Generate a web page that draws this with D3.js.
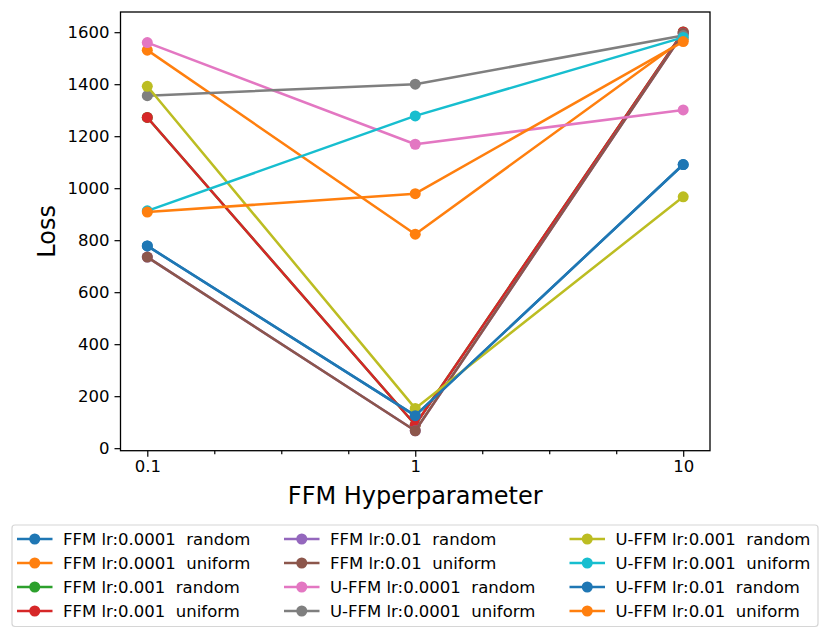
<!DOCTYPE html>
<html>
<head>
<meta charset="utf-8">
<script src="https://cdn.jsdelivr.net/npm/d3@7"></script>
<style>
  body { margin: 0; background: #fff; }
  svg text { font-family: "DejaVu Sans", sans-serif; fill: #000; }
</style>
</head>
<body>
<div id="chart"></div>
<script>
// hyperparameter values on the x axis
var hyperParams = [0.1, 1, 10];
var minorTicks = [0.25, 0.5, 0.75, 1.25, 1.5, 1.75]; // in decades above 0.1

// series labels, in plotting order
var seriesNames = [
    "FFM lr:0.0001  random",
    "FFM lr:0.0001  uniform",
    "FFM lr:0.001  random",
    "FFM lr:0.001  uniform",
    "FFM lr:0.01  random",
    "FFM lr:0.01  uniform",
    "U-FFM lr:0.0001  random",
    "U-FFM lr:0.0001  uniform",
    "U-FFM lr:0.001  random",
    "U-FFM lr:0.001  uniform",
    "U-FFM lr:0.01  random",
    "U-FFM lr:0.01  uniform"
];

// loss values at 0.1, 1, 10
var ffm0001Random = [778, 125, 1091];
var ffm0001Uniform = [1531, 823, 1572];
var ffm001Random = [1272, 90, 1601];
var ffm001Uniform = [1272, 90, 1601];
var ffm01Random = [735, 67, 1596];
var ffm01Uniform = [735, 67, 1596];
var uffm0001Random = [1560, 1169, 1301];
var uffm0001Uniform = [1356, 1400, 1587];
var uffm001Random = [1392, 153, 967];
var uffm001Uniform = [913, 1278, 1580];
var uffm01Random = [778, 125, 1091];
var uffm01Uniform = [908, 979, 1564];

var yTicks = [0, 200, 400, 600, 800, 1000, 1200, 1400, 1600];

var allLoss = [ffm0001Random, ffm0001Uniform, ffm001Random, ffm001Uniform,
    ffm01Random, ffm01Uniform, uffm0001Random, uffm0001Uniform,
    uffm001Random, uffm001Uniform, uffm01Random, uffm01Uniform];

var svgWidth = 830;
var svgHeight = 639;

var plot = { left: 120.5, right: 710, top: 12, bottom: 450.7 };

var svg = d3.select("#chart")
    .append("svg")
    .attr("width", svgWidth)
    .attr("height", svgHeight);

// matplotlib style 5% margins
var xScale = d3.scaleLog()
    .domain([Math.pow(10, -1.1), Math.pow(10, 1.1)])
    .range([plot.left, plot.right]);

var yMin = d3.min(allLoss, s => d3.min(s));
var yMax = d3.max(allLoss, s => d3.max(s));
var pad = (yMax - yMin) * 0.05;
var yScale = d3.scaleLinear()
    .domain([yMin - pad, yMax + pad])
    .range([plot.bottom, plot.top]);

var color = (i) => d3.schemeCategory10[i % 10];

// x axis
var bottomAxis = d3.axisBottom(xScale)
    .tickValues(hyperParams)
    .tickFormat(d => String(d))
    .tickSizeInner(6)
    .tickSizeOuter(0)
    .tickPadding(4);

var xAxis = svg.append("g")
    .attr("transform", `translate(0, ${plot.bottom})`)
    .call(bottomAxis);

var minorAxis = d3.axisBottom(xScale)
    .tickValues(minorTicks.map(d => 0.1 * Math.pow(10, d)))
    .tickFormat("")
    .tickSizeInner(3.5)
    .tickSizeOuter(0);

svg.append("g")
    .attr("transform", `translate(0, ${plot.bottom})`)
    .call(minorAxis)
    .select(".domain").remove();

// y axis
var leftAxis = d3.axisLeft(yScale)
    .tickValues(yTicks)
    .tickFormat(d3.format("d"))
    .tickSizeInner(6)
    .tickSizeOuter(0)
    .tickPadding(5);

var yAxis = svg.append("g")
    .attr("transform", `translate(${plot.left}, 0)`)
    .call(leftAxis);

svg.selectAll(".tick text")
    .style("font-size", "16.5px")
    .style("font-family", "DejaVu Sans");
svg.selectAll(".tick line").attr("stroke", "#000").attr("stroke-width", 1.2);
svg.selectAll(".domain").remove();

// frame
svg.append("rect")
    .attr("x", plot.left)
    .attr("y", plot.top)
    .attr("width", plot.right - plot.left)
    .attr("height", plot.bottom - plot.top)
    .attr("fill", "none")
    .attr("stroke", "#000")
    .attr("stroke-width", 1.3);

// axis labels
svg.append("text")
    .attr("x", (plot.left + plot.right) / 2)
    .attr("y", 504)
    .attr("text-anchor", "middle")
    .style("font-size", "24px")
    .text("FFM Hyperparameter");

svg.append("text")
    .attr("transform", `translate(55, ${(plot.top + plot.bottom) / 2}) rotate(-90)`)
    .attr("text-anchor", "middle")
    .style("font-size", "24px")
    .text("Loss");

// lines and markers
var line = d3.line()
    .x((d, i) => xScale(hyperParams[i]))
    .y(d => yScale(d));

var seriesGroup = svg.append("g");

allLoss.forEach(function(vals, i) {
    var g = seriesGroup.append("g");
    g.append("path")
        .attr("d", line(vals))
        .attr("fill", "none")
        .attr("stroke", color(i))
        .attr("stroke-width", 2.5)
        .attr("stroke-linejoin", "round");
    g.selectAll("circle")
        .data(vals)
        .enter()
        .append("circle")
        .attr("cx", (d, j) => xScale(hyperParams[j]))
        .attr("cy", d => yScale(d))
        .attr("r", 5.5)
        .attr("fill", color(i));
});

// legend, 3 columns x 4 rows
svg.append("rect")
    .attr("x", 12)
    .attr("y", 525)
    .attr("width", 806)
    .attr("height", 101.5)
    .attr("rx", 3)
    .attr("fill", "#fff")
    .attr("stroke", "#d6d6d6")
    .attr("stroke-width", 1.2);

var colX = [17, 284, 569.5];
var rowY = [539, 563, 587, 611];

var legendItems = svg.append("g")
    .selectAll("g")
    .data(seriesNames)
    .enter()
    .append("g")
    .attr("transform", (d, i) => `translate(${colX[Math.floor(i / 4)]}, ${rowY[i % 4]})`);

legendItems.append("line")
    .attr("x1", 0)
    .attr("x2", 35.5)
    .attr("stroke", (d, i) => color(i))
    .attr("stroke-width", 2.5);

legendItems.append("circle")
    .attr("cx", 17.75)
    .attr("r", 5.5)
    .attr("fill", (d, i) => color(i));

legendItems.append("text")
    .attr("x", 46)
    .attr("y", 5.8)
    .style("font-size", "16.5px")
    .style("white-space", "pre")
    .text(d => d);
</script>
</body>
</html>
